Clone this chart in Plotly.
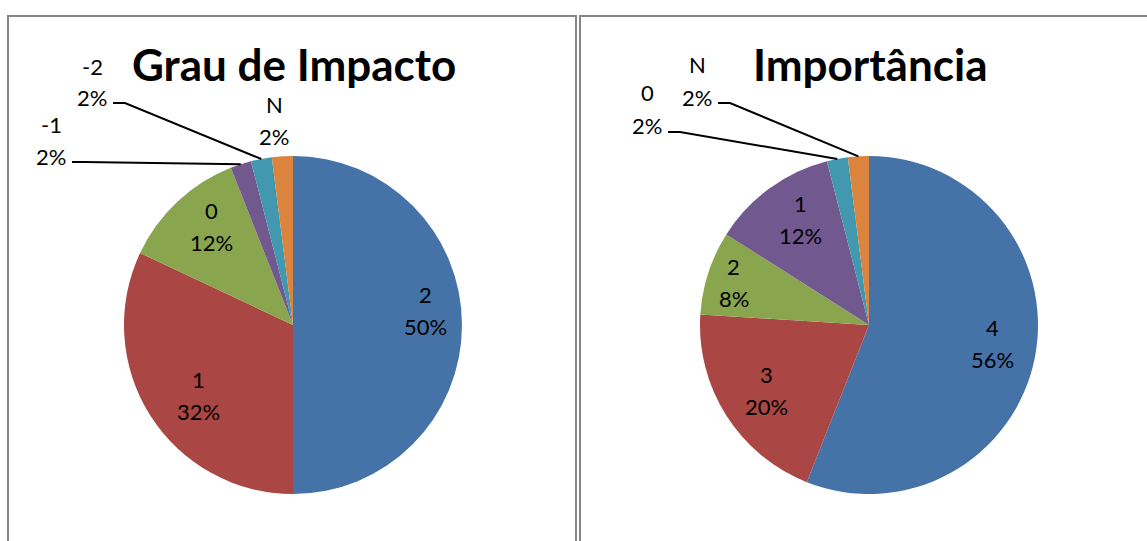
import math
import plotly.graph_objects as go

W, H = 1147, 541

# ---- data ----
impact_cats = ["2", "1", "0", "-1", "-2", "N"]
impact_vals = [25, 16, 6, 1, 1, 1]
import_cats = ["4", "3", "2", "1", "0", "N"]
import_vals = [28, 10, 4, 6, 1, 1]
titles = ["Grau de Impacto", "Importância"]

# ---- style ----
colors = ["#4572A7", "#AA4643", "#89A54E", "#71588F", "#4198AF", "#DB843D"]
FONT = "Lato"
centers = [(293, 325), (869, 325)]
R = 169
# inside label radial fraction / angular nudge (deg) per slice (None = callout)
inside_frac = [
    [0.79, 0.70, 0.756, None, None, None],
    [0.742, 0.72, 0.837, 0.745, None, None],
]
inside_shift = [
    [-6.4, -4.4, 3.3, 0, 0, 0],
    [-2.1, 0.0, -0.7, 3.3, 0, 0],
]
# callout label centres (px) and leader start points (px)
callouts = [
    {"-1": ((51, 140), (72, 162)), "-2": ((92, 82), (113, 103)), "N": ((274, 120), None)},
    {"0": ((647, 109), (668, 132)), "N": ((697, 81), (718, 103))},
]


def px(x):
    return x / W


def py(y):
    return 1 - y / H


fig = go.Figure()
annotations = []
shapes = []

panels = [(impact_cats, impact_vals), (import_cats, import_vals)]
for i, (cats, vals) in enumerate(panels):
    cx, cy = centers[i]
    fig.add_trace(go.Pie(
        labels=cats, values=vals, sort=False, direction="clockwise", rotation=0,
        marker=dict(colors=colors, line=dict(width=0)),
        textinfo="none", hoverinfo="none", showlegend=False,
        domain=dict(x=[px(cx - R), px(cx + R)], y=[py(cy + R), py(cy - R)]),
    ))
    total = sum(vals)
    cum = 0
    for j, (c, v) in enumerate(zip(cats, vals)):
        mid = (cum + v / 2) / total * 360
        cum += v
        pct = f"{round(v / total * 100)}%"
        f = inside_frac[i][j]
        if f is not None:
            a = math.radians(mid + inside_shift[i][j])
            lx, ly = cx + R * f * math.sin(a), cy - R * f * math.cos(a)
        else:
            a = math.radians(mid)
            (lx, ly), start = callouts[i][c]
            if start is not None:
                ex, ey = cx + R * math.sin(a), cy - R * math.cos(a)
                sx, sy = start
                shapes.append(dict(
                    type="path", xref="paper", yref="paper",
                    path=f"M {px(sx)},{py(sy)} L {px(sx + 12)},{py(sy)} L {px(ex)},{py(ey)}",
                    line=dict(color="black", width=2),
                ))
        for txt, off in ((c, -16), (pct, 16)):
            annotations.append(dict(
                x=px(lx), y=py(ly + off), xref="paper", yref="paper",
                text=txt, showarrow=False, xanchor="center", yanchor="middle",
                font=dict(family=FONT, size=22, color="black"),
            ))
    annotations.append(dict(
        x=px(cx + 0.5), y=py(64), xref="paper", yref="paper",
        text=f"<b>{titles[i]}</b>", showarrow=False, xanchor="center", yanchor="middle",
        font=dict(family=FONT, size=44, color="black"),
    ))

# panel borders
for x0, x1 in ((8, 576), (580, 1152)):
    shapes.append(dict(
        type="rect", xref="paper", yref="paper",
        x0=px(x0), x1=px(x1), y0=py(560), y1=py(16),
        line=dict(color="#868686", width=2), fillcolor="rgba(0,0,0,0)",
        layer="below",
    ))

fig.update_layout(
    width=W, height=H, margin=dict(l=0, r=0, t=0, b=0),
    paper_bgcolor="white", plot_bgcolor="white",
    annotations=annotations, shapes=shapes,
)

fig.write_html("out.html")
